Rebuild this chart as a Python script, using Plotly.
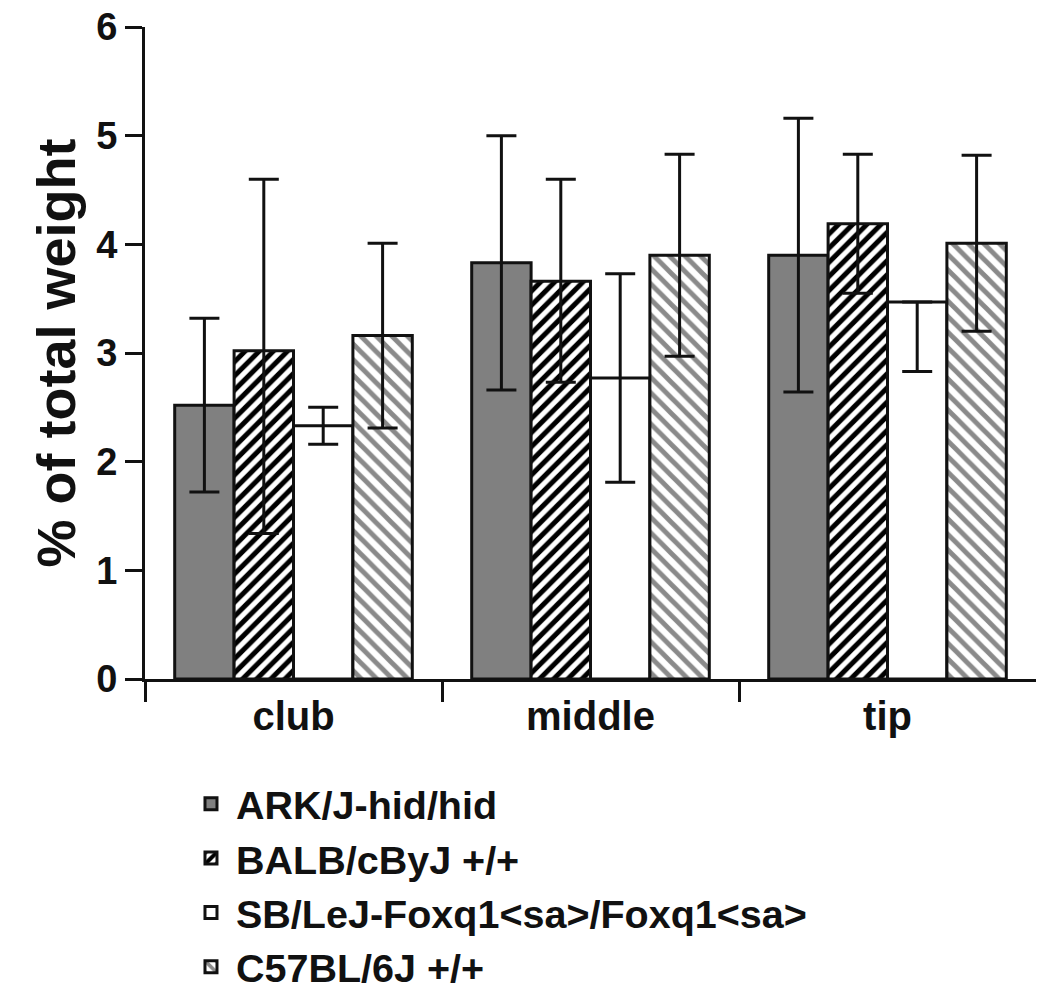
import plotly.graph_objects as go

categories = ["club", "middle", "tip"]
cat_pos = [0, 1, 2]
boundaries = [-0.5, 0.5, 1.5]

series_names = ["ARK/J-hid/hid", "BALB/cByJ +/+", "SB/LeJ-Foxq1<sa>/Foxq1<sa>", "C57BL/6J +/+"]

ark_vals = [2.52, 3.83, 3.90]
ark_err_up = [0.80, 1.17, 1.26]
ark_err_dn = [0.80, 1.17, 1.26]

balb_vals = [3.02, 3.66, 4.19]
balb_err_up = [1.58, 0.94, 0.64]
balb_err_dn = [1.68, 0.93, 0.64]

sb_vals = [2.33, 2.77, 3.47]
sb_err_up = [0.17, 0.96, 0.0]
sb_err_dn = [0.17, 0.96, 0.64]

c57_vals = [3.16, 3.90, 4.01]
c57_err_up = [0.85, 0.93, 0.81]
c57_err_dn = [0.85, 0.93, 0.81]

FONT = "Arial, Liberation Sans, Helvetica, sans-serif"

styles = [
    dict(color="#808080", pattern=dict(shape="")),
    dict(color="white", pattern=dict(shape="/", fgcolor="black", bgcolor="white", size=10, solidity=0.5, fillmode="replace")),
    dict(color="white", pattern=dict(shape="")),
    dict(color="white", pattern=dict(shape="\\", fgcolor="#8a8a8a", bgcolor="white", size=11, solidity=0.45, fillmode="replace")),
]

data = [
    (ark_vals, ark_err_up, ark_err_dn),
    (balb_vals, balb_err_up, balb_err_dn),
    (sb_vals, sb_err_up, sb_err_dn),
    (c57_vals, c57_err_up, c57_err_dn),
]

fig = go.Figure()
for i, (name, (vals, up, dn), st) in enumerate(zip(series_names, data, styles)):
    fig.add_trace(go.Bar(
        x=cat_pos, y=vals, name=name, legendgroup=f"g{i}",
        marker=dict(color=st["color"], pattern=st["pattern"],
                    line=dict(color="#111111", width=3)),
        error_y=dict(type="data", symmetric=False, array=up, arrayminus=dn,
                     color="#111111", thickness=3, width=15),
    ))

fig.update_layout(
    width=1050, height=1007,
    paper_bgcolor="white", plot_bgcolor="white",
    margin=dict(l=145, r=14, t=27, b=328, autoexpand=False),
    barmode="group", bargap=0.2, bargroupgap=0,
    font=dict(family=FONT, color="#111111", weight="bold"),
    showlegend=True,
    legend=dict(
        x=0.046, y=-0.142, xanchor="left", yanchor="top",
        font=dict(family=FONT, size=39.5, color="#111111", weight="bold"),
        bgcolor="rgba(0,0,0,0)", itemwidth=40, tracegroupgap=0,
    ),
)

fig.update_xaxes(
    type="linear", range=[-0.5, 2.5], automargin=False,
    tickmode="array", tickvals=cat_pos, ticktext=categories,
    ticks="", tickfont=dict(family=FONT, size=40, color="#111111", weight="bold"),
    showline=True, linecolor="#111111", linewidth=3,
    showgrid=False, zeroline=False,
    minor=dict(tickmode="array", tickvals=boundaries, ticks="outside",
               ticklen=20, tickwidth=3, tickcolor="#111111", showgrid=False),
)

fig.update_yaxes(
    range=[0, 6], tickmode="array", tickvals=[0, 1, 2, 3, 4, 5, 6], automargin=False,
    ticks="outside", ticklen=17, tickwidth=3, tickcolor="#111111",
    tickfont=dict(family=FONT, size=38, color="#111111", weight="bold"),
    showline=True, linecolor="#111111", linewidth=3,
    showgrid=False, zeroline=False,
    title=dict(text="% of total weight",
               font=dict(family=FONT, size=54, color="#111111", weight="bold"),
               standoff=4),
)

fig.write_html(
    "out.html",
    config={"displayModeBar": False},
    post_script="document.body.style.margin='0';document.body.style.overflow='hidden';",
)
